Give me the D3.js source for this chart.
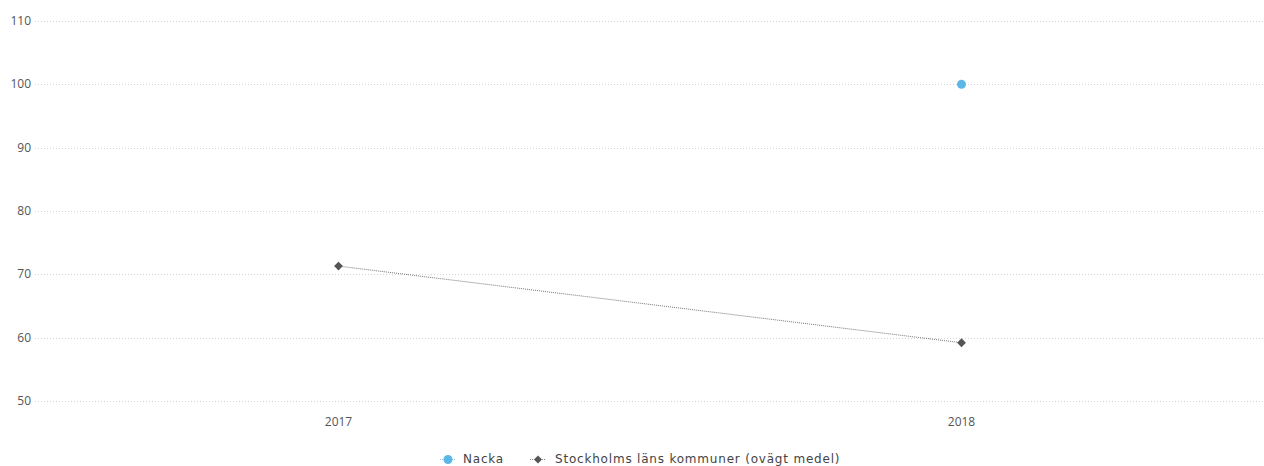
<!DOCTYPE html>
<html><head><meta charset="utf-8">
<script src="https://cdn.jsdelivr.net/npm/d3@7"></script>
<style>body{margin:0;background:#fff;} svg{display:block;font-family:"Open Sans",sans-serif;}</style>
</head><body><svg id="c" width="1264" height="466"></svg>
<script>
const categories = ["2017", "2018"];
const nacka = [null, 100];
const stockholm = [71.3, 59.2];
const yTicks = [50, 60, 70, 80, 90, 100, 110];
const seriesNames = ["Nacka", "Stockholms läns kommuner (ovägt medel)"];

const svg = d3.select("#c");
const x = d3.scaleBand().domain(categories).range([27, 1273]);
const y = d3.scaleLinear().domain([50, 110]).range([401, 21]);
const cx = d => x(d) + x.bandwidth() / 2;

// grid
svg.append("g").selectAll("line").data(yTicks).join("line")
  .attr("x1", 35).attr("x2", 1264)
  .attr("y1", d => Math.round(y(d)) + 0.5).attr("y2", d => Math.round(y(d)) + 0.5)
  .attr("stroke", "#ccd4dc").attr("stroke-width", 1).attr("stroke-dasharray", "1,2");

// y labels
svg.append("g").selectAll("text").data(yTicks).join("text")
  .attr("x", 31).attr("y", d => y(d) + 4).attr("text-anchor", "end")
  .attr("font-size", 12).attr("fill", "#555").text(d => d);

// x labels
svg.append("g").selectAll("text").data(categories).join("text")
  .attr("x", d => cx(d)).attr("y", 426).attr("text-anchor", "middle")
  .attr("font-size", 12).attr("fill", "#555").text(d => d);

// stockholm line
const sData = categories.map((c, i) => ({c, v: stockholm[i]})).filter(d => d.v != null);
svg.append("path").datum(sData)
  .attr("d", d3.line().x(d => cx(d.c)).y(d => y(d.v)))
  .attr("fill", "none").attr("stroke", "#777").attr("stroke-width", 1).attr("stroke-dasharray", "1,1");
svg.append("g").selectAll("path").data(sData).join("path")
  .attr("d", d3.symbol(d3.symbolDiamond2, 50))
  .attr("transform", d => `translate(${cx(d.c)},${y(d.v)})`)
  .attr("fill", "#555");

// nacka
const nData = categories.map((c, i) => ({c, v: nacka[i]})).filter(d => d.v != null);
svg.append("g").selectAll("circle").data(nData).join("circle")
  .attr("cx", d => cx(d.c)).attr("cy", d => y(d.v)).attr("r", 4.5)
  .attr("fill", "#5bb8e6");

// legend
const lg = svg.append("g").attr("font-size", 12).attr("fill", "#444")
  .style("font-family", "'DejaVu Sans', sans-serif").style("letter-spacing", "0.8px");
lg.append("line").attr("x1", 440).attr("x2", 456).attr("y1", 459.5).attr("y2", 459.5)
  .attr("stroke", "#8cc8e8").attr("stroke-dasharray", "1,1");
lg.append("circle").attr("cx", 448).attr("cy", 459.5).attr("r", 4.5).attr("fill", "#5bb8e6");
lg.append("text").attr("x", 463).attr("y", 463).text(seriesNames[0]);
lg.append("line").attr("x1", 530).attr("x2", 546).attr("y1", 459.5).attr("y2", 459.5)
  .attr("stroke", "#888").attr("stroke-dasharray", "1,1");
lg.append("path").attr("d", d3.symbol(d3.symbolDiamond2, 40)).attr("transform", "translate(538,459.5)").attr("fill", "#555");
lg.append("text").attr("x", 555).attr("y", 463).text(seriesNames[1]);
</script></body></html>
